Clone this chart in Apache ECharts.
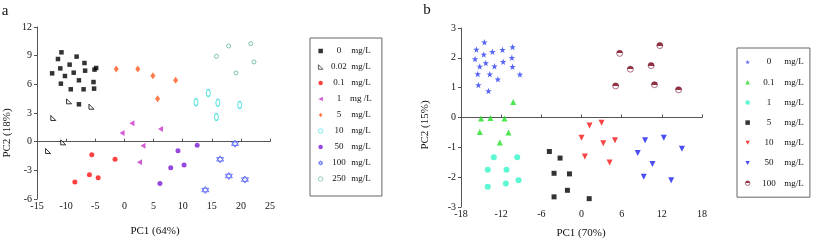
<!DOCTYPE html>
<html>
<head>
<meta charset="utf-8">
<script src="https://cdn.jsdelivr.net/npm/echarts@6/dist/echarts.min.js"></script>
<style>html,body{margin:0;padding:0;background:#fff}#c{width:813px;height:240px}</style>
</head>
<body>
<div id="c"></div>
<script>
// ---------- Panel a data ----------
const catsA = ['0', '0.02', '0.1', '1', '5', '10', '50', '100', '250'];
const unitsA = ['mg/L', 'mg/L', 'mg/L', 'mg /L', 'mg/L', 'mg/L', 'mg/L', 'mg/L', 'mg/L'];
const a_0 = [[-10.8,9.35],[-8.2,8.9],[-11.4,8.65],[-12.4,7.15],[-11.0,7.67],[-9.4,8.06],[-6.85,8.23],[-4.84,7.71],[-5.13,7.54],[-10.2,6.87],[-8.7,7.22],[-6.74,7.43],[-10.9,6.07],[-7.8,6.42],[-5.3,6.24],[-9.2,5.48],[-7.0,5.48],[-5.2,5.55],[-7.8,3.91]];
const a_002 = [[-9.5,4.22],[-5.65,3.66],[-12.2,2.48],[-10.5,-0.07],[-13.1,-0.98]];
const a_01 = [[-5.6,-1.36],[-1.6,-1.85],[-6.0,-3.45],[-4.5,-3.77],[-8.5,-4.22]];
const a_1 = [[1.3,1.92],[-0.4,0.91],[6.2,1.33],[3.2,-0.42],[2.6,-2.16]];
const a_5 = [[-1.4,7.61],[2.3,7.61],[4.9,6.91],[8.8,6.42],[5.7,4.5]];
const a_10 = [[12.3,4.12],[14.4,5.09],[16.05,4.08],[19.8,3.84],[15.8,2.58]];
const a_50 = [[12.5,-0.38],[9.2,-0.94],[10.25,-2.44],[7.96,-2.72],[6.1,-4.39]];
const a_100 = [[19.0,-0.21],[16.45,-1.85],[17.94,-3.59],[20.7,-3.97],[13.9,-5.06]];
const a_250 = [[15.8,8.93],[17.9,10.01],[21.7,10.26],[22.25,8.34],[19.15,7.19]];
const xTicksA = {min: -15, max: 25, interval: 5};
const yTicksA = {min: -6, max: 12, interval: 3};

// ---------- Panel b data ----------
const catsB = ['0', '0.1', '1', '5', '10', '50', '100'];
const unitsB = ['mg/L', 'mg/L', 'mg/L', 'mg/L', 'mg/L', 'mg/L', 'mg/L'];
const b_0 = [[-14.5,2.52],[-15.7,2.28],[-13.3,2.2],[-11.8,2.27],[-10.3,2.36],[-14.6,2.11],[-15.9,1.96],[-10.4,2.0],[-14.3,1.83],[-11.7,1.87],[-15.2,1.71],[-13.0,1.72],[-10.3,1.7],[-15.5,1.46],[-13.7,1.45],[-12.5,1.28],[-9.2,1.44],[-15.4,1.09],[-13.9,0.89]];
const b_01 = [[-10.2,0.52],[-15.0,-0.03],[-13.6,-0.02],[-11.5,-0.03],[-15.2,-0.49],[-10.9,-0.5],[-12.2,-0.84]];
const b_1 = [[-13.1,-1.33],[-9.6,-1.33],[-14.0,-1.75],[-11.2,-1.75],[-11.3,-2.21],[-9.4,-2.1],[-14.0,-2.32]];
const b_5 = [[-4.8,-1.14],[-3.2,-1.36],[-4.1,-1.87],[-1.8,-1.89],[-2.1,-2.44],[-4.1,-2.66],[1.15,-2.72]];
const b_10 = [[3.0,-0.18],[1.2,-0.27],[0.0,-0.68],[3.25,-0.86],[5.0,-0.76],[0.5,-1.31],[4.2,-1.51]];
const b_50 = [[12.3,-0.68],[9.5,-0.76],[15.0,-1.05],[8.4,-1.19],[10.6,-1.56],[9.3,-1.99],[13.4,-2.1]];
const b_100 = [[11.7,2.41],[5.7,2.15],[7.3,1.62],[10.4,1.74],[5.1,1.06],[10.9,1.1],[14.5,0.93]];
const xTicksB = {min: -18, max: 18, interval: 6};
const yTicksB = {min: -3, max: 3, interval: 1};

const FONT = "'Liberation Serif', 'Times New Roman', serif";
const STAR = 'path://M50,0 L61.8,35.1 L98.9,35.1 L69,57 L80.2,92.3 L50,70.6 L19.8,92.3 L31,57 L1.1,35.1 L38.2,35.1 Z';
const HEXA = 'path://M50,0 L93.3,75 L6.7,75 Z M50,100 L6.7,25 L93.3,25 Z';
const RTRI = 'path://M0,0 L0,10 L10,10 Z';
const DIAM = 'path://M5,0 L10,6 L5,12 L0,6 Z';
const TRI_L = 'path://M10,0 L10,10 L0,5 Z';
const TRI_D = 'path://M0,0 L10,0 L5,9 Z';

function mk(name, data, gi, symbol, size, itemStyle) {
  return {
    type: 'scatter', name: name, data: data,
    xAxisIndex: gi, yAxisIndex: gi,
    symbol: symbol, symbolSize: size,
    itemStyle: itemStyle, silent: true, animation: false
  };
}

const nmA = catsA.map(c => 'a' + c);
const nmB = catsB.map(c => 'b' + c);

const series = [
  mk(nmA[0], a_0, 0, 'rect', 4.5, {color: '#000'}),
  mk(nmA[1], a_002, 0, RTRI, 5, {color: '#fff', borderColor: '#000', borderWidth: 1}),
  mk(nmA[2], a_01, 0, 'circle', 5, {color: '#ff1010'}),
  mk(nmA[3], a_1, 0, TRI_L, [5, 6], {color: '#cc33cc'}),
  mk(nmA[4], a_5, 0, DIAM, [5, 7], {color: '#ff5a1e'}),
  mk(nmA[5], a_10, 0, 'circle', [4, 7], {color: '#fff', borderColor: '#33dcdc', borderWidth: 1.2}),
  mk(nmA[6], a_50, 0, 'circle', 5, {color: '#7b1ad2'}),
  mk(nmA[7], a_100, 0, HEXA, 7, {color: '#fff', borderColor: '#4f5cf5', borderWidth: 1}),
  mk(nmA[8], a_250, 0, 'circle', 4, {color: '#fff', borderColor: '#5cb89a', borderWidth: 1}),

  mk(nmB[0], b_0, 1, STAR, 6.5, {color: '#2b3cf5'}),
  mk(nmB[1], b_01, 1, 'triangle', 6, {color: '#22e022'}),
  mk(nmB[2], b_1, 1, 'circle', 6, {color: '#36f5c8'}),
  mk(nmB[3], b_5, 1, 'rect', 5, {color: '#000'}),
  mk(nmB[4], b_10, 1, TRI_D, 6, {color: '#f51515'}),
  mk(nmB[5], b_50, 1, TRI_D, 6, {color: '#1a22f0'}),
  mk(nmB[6], b_100, 1, 'circle', 6, {
    color: {type: 'linear', x: 0, y: 0, x2: 0, y2: 1, colorStops: [
      {offset: 0, color: '#7a0010'}, {offset: 0.52, color: '#7a0010'},
      {offset: 0.52, color: '#ffffff'}, {offset: 1, color: '#ffffff'}]},
    borderColor: '#7a2040', borderWidth: 0.8
  })
];

function axisX(gi, t, margin) {
  return {
    type: 'value', gridIndex: gi, min: t.min, max: t.max, interval: t.interval,
    axisLine: {show: true, lineStyle: {color: '#555', width: 1}},
    axisTick: {show: true, inside: true, length: 3, lineStyle: {color: '#555'}},
    axisLabel: {fontFamily: FONT, fontSize: 10, color: '#111', margin: margin},
    splitLine: {show: false}
  };
}
function axisY(gi, t) {
  return {
    type: 'value', gridIndex: gi, min: t.min, max: t.max, interval: t.interval,
    axisLine: {show: true, onZero: false, lineStyle: {color: '#555', width: 1}},
    axisTick: {show: true, inside: false, length: 3, lineStyle: {color: '#555'}},
    axisLabel: {fontFamily: FONT, fontSize: 10, color: '#111', margin: 5},
    splitLine: {show: false}
  };
}

function legendFor(names, cats, units, opts) {
  return Object.assign({
    data: names, orient: 'vertical', selectedMode: false,
    itemWidth: 4.5, itemHeight: 4.5,
    itemStyle: {borderWidth: 0.8},
    borderColor: '#666', borderWidth: 1, borderRadius: 0,
    formatter: function (name) {
      const i = names.indexOf(name);
      return '{n|' + cats[i] + '}{u|' + units[i] + '}';
    }
  }, opts);
}

const option = {
  backgroundColor: '#fff',
  animation: false,
  grid: [
    {left: 37, top: 27, width: 233, height: 172},
    {left: 461, top: 28, width: 241, height: 179}
  ],
  xAxis: [axisX(0, xTicksA, 2), axisX(1, xTicksB, 2)],
  yAxis: [axisY(0, yTicksA), axisY(1, yTicksB)],
  legend: [
    legendFor(nmA, catsA, unitsA, {
      left: 310, top: 38, itemGap: 6, padding: [8, 10, 12, 8],
      textStyle: {fontFamily: FONT, fontSize: 9, lineHeight: 10, color: '#111',
        rich: {n: {width: 22, align: 'center', fontFamily: FONT, fontSize: 9, lineHeight: 10},
               u: {width: 22, fontFamily: FONT, fontSize: 9, lineHeight: 10}}}
    }),
    legendFor(nmB, catsB, unitsB, {
      left: 737, top: 48, itemGap: 10.2, padding: [9, 5, 9, 8],
      textStyle: {fontFamily: FONT, fontSize: 9, lineHeight: 10, color: '#111',
        rich: {n: {width: 28, align: 'center', fontFamily: FONT, fontSize: 9, lineHeight: 10},
               u: {width: 22, fontFamily: FONT, fontSize: 9, lineHeight: 10}}}
    })
  ],
  graphic: [
    {type: 'text', x: 5, y: 11, style: {text: 'a', font: '15px ' + FONT, fill: '#111', align: 'center', verticalAlign: 'middle'}},
    {type: 'text', x: 427, y: 10, style: {text: 'b', font: '15px ' + FONT, fill: '#111', align: 'center', verticalAlign: 'middle'}},
    {type: 'text', x: 155, y: 231, style: {text: 'PC1 (64%)', font: '11px ' + FONT, fill: '#111', align: 'center', verticalAlign: 'middle'}},
    {type: 'text', x: 581, y: 233, style: {text: 'PC1 (70%)', font: '11px ' + FONT, fill: '#111', align: 'center', verticalAlign: 'middle'}},
    {type: 'text', x: 7.5, y: 133, rotation: Math.PI / 2, style: {text: 'PC2 (18%)', font: '11px ' + FONT, fill: '#111', align: 'center', verticalAlign: 'middle'}},
    {type: 'text', x: 425, y: 125, rotation: Math.PI / 2, style: {text: 'PC2 (15%)', font: '11px ' + FONT, fill: '#111', align: 'center', verticalAlign: 'middle'}}
  ],
  series: series
};

const chart = echarts.init(document.getElementById('c'), null, {renderer: 'canvas'});
chart.setOption(option);
</script>
</body>
</html>
